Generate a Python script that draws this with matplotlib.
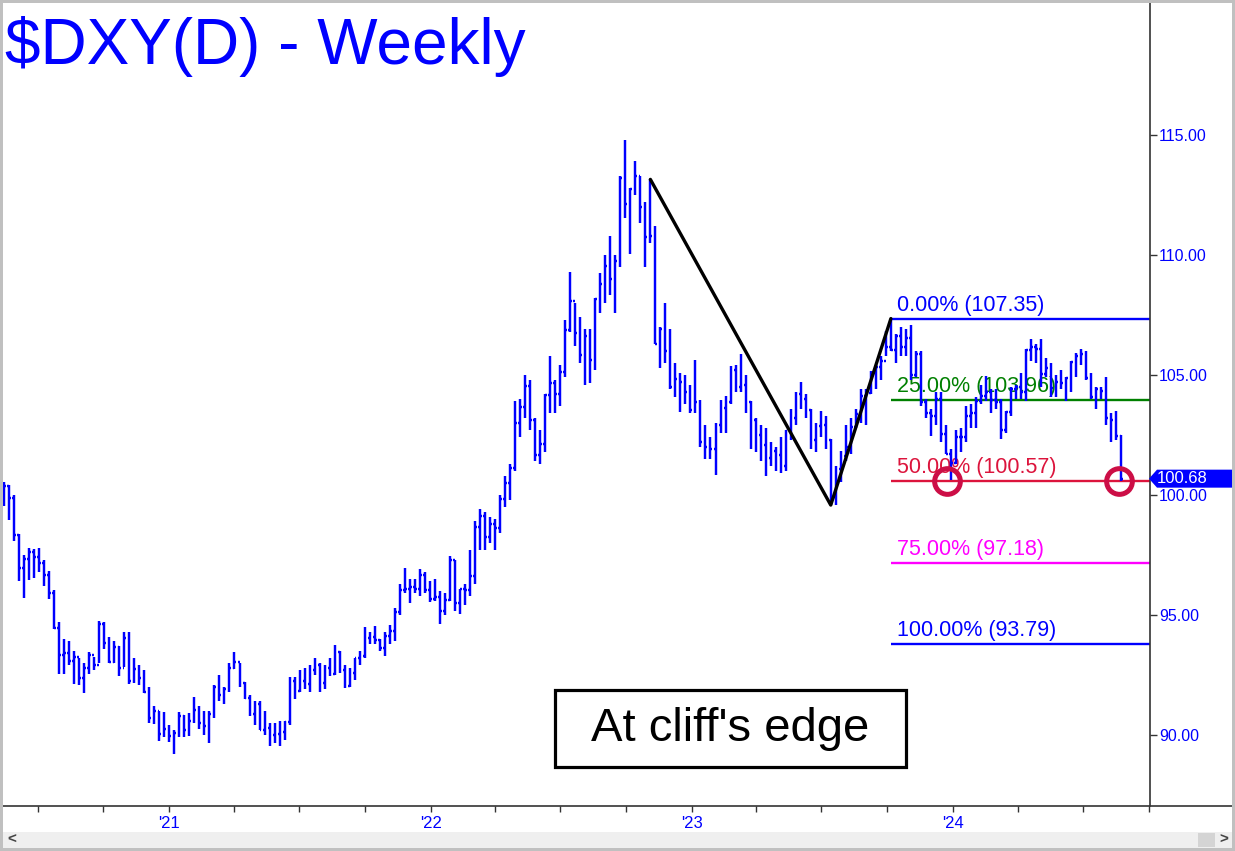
import matplotlib.pyplot as plt
import matplotlib.dates as mdates
import numpy as np
import pandas as pd
from matplotlib.patches import Rectangle, Polygon
from matplotlib.lines import Line2D
from matplotlib.transforms import IdentityTransform

plt.rcParams['font.family'] = ['Liberation Sans', 'DejaVu Sans']

# weekly bars, dated by the Friday that ends each week
week_end = pd.date_range('2020-05-15', periods=224, freq='7D')

highs = [
    # 2020
    100.56, 100.40, 100.00, 98.38, 97.50, 97.80, 97.76, 97.80, 97.30, 96.85, 96.03, 94.70,
    94.00, 93.90, 93.50, 93.20, 93.00, 93.46, 93.25, 94.74, 94.70, 94.10, 93.90, 93.70,
    94.30, 94.30, 93.20, 92.92, 92.70, 92.00, 91.20, 91.00, 90.95, 90.40,
    # 2021
    90.20, 90.95, 90.85, 90.90, 91.60, 91.20, 91.00, 91.00, 92.10, 92.50, 92.00, 93.00,
    93.44, 93.00, 92.20, 91.66, 91.40, 91.43, 91.00, 90.50, 90.50, 90.60, 90.60, 92.40,
    92.40, 92.70, 92.80, 92.90, 93.20, 93.00, 92.90, 93.20, 93.73, 93.50, 92.90, 92.80,
    93.20, 93.50, 94.50, 94.30, 94.56, 94.00, 94.30, 94.60, 95.27, 96.27, 96.94, 96.50,
    96.50, 96.91, 96.80, 96.40,
    # 2022
    96.50, 96.00, 95.90, 97.44, 97.30, 96.10, 96.30, 97.70, 98.90, 99.42, 99.30, 99.10,
    99.00, 100.00, 100.80, 101.30, 103.93, 104.00, 105.00, 104.80, 103.20, 102.70, 104.20, 105.78,
    104.80, 105.40, 107.30, 109.29, 108.00, 107.40, 106.90, 106.90, 108.20, 109.27, 109.99, 110.79,
    110.00, 113.30, 114.78, 112.80, 113.92, 113.30, 112.20, 113.15, 111.20, 107.00, 107.99, 106.90,
    105.50, 105.10, 105.00, 104.60,
    # 2023
    105.63, 103.95, 102.90, 102.40, 103.00, 103.96, 104.12, 105.36, 105.40, 105.88, 105.00, 103.90,
    103.20, 102.90, 102.80, 102.20, 102.00, 102.40, 102.70, 103.60, 104.30, 104.70, 104.20, 103.60,
    103.00, 103.50, 103.30, 102.35, 101.20, 101.85, 102.90, 103.20, 103.60, 104.40, 104.40, 105.16,
    105.40, 105.80, 106.84, 107.35, 106.70, 107.00, 106.90, 107.10, 106.00, 106.00, 104.00, 103.60,
    104.30, 104.30, 102.90, 101.90,
    # 2024
    102.70, 102.80, 103.70, 103.80, 104.10, 104.60, 104.97, 104.40, 104.40, 104.00, 103.50, 104.50,
    104.60, 105.10, 106.10, 106.50, 106.30, 106.50, 105.70, 105.50, 105.00, 105.20, 104.90, 105.60,
    105.90, 106.10, 106.00, 105.10, 104.50, 104.50, 104.90, 103.40, 103.50, 102.50,
]

lows = [
    # 2020
    99.55, 98.97, 98.08, 96.43, 95.71, 96.44, 96.56, 96.80, 96.22, 95.67, 94.43, 92.55,
    92.53, 92.90, 92.13, 92.08, 91.75, 92.52, 92.70, 93.00, 93.58, 92.98, 92.98, 92.47,
    92.82, 92.13, 92.15, 92.10, 91.74, 90.50, 90.47, 89.74, 89.90, 89.72,
    # 2021
    89.21, 89.90, 89.90, 89.95, 90.50, 90.26, 90.00, 89.68, 90.70, 91.40, 91.30, 91.80,
    92.75, 92.00, 91.50, 90.80, 90.42, 90.20, 89.98, 89.53, 89.66, 89.53, 89.80, 90.40,
    91.50, 91.80, 91.90, 91.80, 92.50, 91.80, 91.90, 92.45, 92.50, 92.60, 91.95, 92.00,
    92.30, 92.90, 93.20, 93.80, 93.80, 93.50, 93.30, 93.80, 93.90, 95.00, 95.90, 95.50,
    95.90, 95.80, 95.90, 95.55,
    # 2022
    95.60, 94.63, 95.00, 95.60, 95.17, 95.05, 95.40, 95.80, 96.30, 97.70, 97.70, 98.00,
    97.70, 98.40, 99.50, 99.80, 101.00, 102.40, 103.20, 102.70, 101.43, 101.30, 101.80, 103.40,
    103.40, 103.70, 104.90, 106.80, 106.20, 105.50, 104.60, 104.65, 105.20, 107.60, 108.00, 108.35,
    107.60, 109.50, 111.56, 110.06, 112.50, 111.35, 109.50, 110.50, 106.28, 105.30, 105.50, 104.40,
    104.10, 103.45, 103.80, 103.40,
    # 2023
    103.40, 101.99, 101.50, 101.50, 100.82, 102.60, 102.60, 103.80, 104.30, 104.30, 103.40, 101.92,
    101.80, 101.40, 100.80, 101.20, 101.00, 100.90, 101.00, 102.30, 102.90, 103.60, 103.20, 101.90,
    101.80, 102.40, 101.90, 99.58, 99.57, 100.55, 101.40, 101.70, 102.80, 103.00, 102.90, 104.20,
    104.40, 104.80, 105.80, 106.00, 105.50, 105.80, 105.80, 104.80, 104.90, 103.70, 103.20, 102.46,
    102.90, 102.20, 101.70, 100.62,
    # 2024
    101.30, 101.80, 102.20, 102.80, 102.80, 103.80, 103.90, 103.40, 103.60, 102.34, 102.60, 103.30,
    104.00, 104.00, 103.90, 105.60, 105.50, 104.50, 104.90, 104.10, 104.10, 104.40, 103.90, 104.30,
    104.90, 105.40, 104.80, 104.00, 103.60, 104.00, 102.90, 102.20, 102.30, 100.60,
]

closes = [
    # 2020
    100.37, 99.86, 98.34, 96.94, 97.33, 97.62, 97.43, 97.18, 96.65, 95.91, 94.44, 93.35,
    93.43, 93.09, 93.24, 92.37, 92.80, 93.33, 92.93, 94.64, 93.85, 93.05, 93.68, 92.77,
    94.04, 92.23, 92.75, 92.39, 91.79, 90.70, 90.98, 90.02, 90.24, 89.94,
    # 2021
    90.10, 90.77, 90.22, 90.58, 91.04, 90.48, 90.36, 90.88, 91.99, 91.67, 91.92, 92.77,
    93.02, 92.17, 91.56, 90.86, 91.28, 90.22, 90.31, 90.00, 90.03, 90.13, 90.55, 92.23,
    91.85, 92.23, 92.12, 92.69, 92.91, 92.17, 92.80, 92.52, 93.47, 92.69, 92.03, 92.58,
    93.19, 93.29, 94.04, 94.08, 93.96, 93.62, 94.12, 94.32, 95.12, 96.03, 96.08, 96.16,
    96.08, 96.66, 96.04, 95.67,
    # 2022
    95.73, 95.16, 95.64, 97.27, 95.48, 96.07, 96.05, 96.61, 98.66, 99.13, 98.23, 98.80,
    98.62, 99.85, 100.50, 101.12, 103.00, 103.66, 104.56, 103.14, 101.67, 102.14, 104.15, 104.67,
    104.19, 105.14, 106.89, 108.07, 106.73, 105.85, 106.61, 105.63, 108.17, 108.81, 109.54, 109.00,
    109.76, 113.19, 112.12, 112.76, 113.31, 111.99, 110.76, 110.81, 106.29, 106.93, 106.00, 104.51,
    104.82, 104.70, 104.31, 103.52,
    # 2023
    103.89, 102.20, 102.01, 101.93, 102.92, 103.63, 103.86, 105.21, 104.52, 104.58, 103.86, 103.12,
    102.51, 102.08, 101.55, 101.83, 101.66, 101.22, 102.68, 103.20, 104.22, 104.01, 103.55, 102.27,
    102.89, 102.91, 102.27, 99.91, 101.07, 101.62, 102.01, 102.84, 103.39, 104.13, 104.25, 105.07,
    105.32, 105.58, 106.17, 106.04, 106.62, 106.16, 106.56, 105.02, 105.87, 103.87, 103.40, 103.27,
    104.01, 102.56, 101.70, 101.33,
    # 2024
    102.42, 102.40, 103.29, 103.43, 103.92, 104.11, 104.29, 103.94, 103.86, 102.71, 103.44, 104.43,
    104.51, 104.30, 106.04, 106.15, 106.09, 105.03, 105.30, 104.45, 104.72, 104.67, 104.89, 105.55,
    105.80, 105.87, 104.88, 104.09, 104.40, 104.32, 103.21, 103.14, 102.45, 100.68,
]

# ABC swing and the fib projection off it
swing_dates = pd.to_datetime(['2022-11-04', '2023-07-14', '2023-10-06'])
swing_prices = [113.15, 99.58, 107.35]
fib_names = ['0.00%', '25.00%', '50.00%', '75.00%', '100.00%']
fib_levels = [107.35, 103.96, 100.57, 97.18, 93.79]
fib_colors = ['#0000ff', '#008000', '#dc143c', '#ff00ff', '#0000ff']
circle_dates = pd.to_datetime(['2023-12-24', '2024-08-20'])

year_ticks = pd.to_datetime(['2021-01-01', '2022-01-01', '2023-01-01', '2024-01-01'])
year_labels = ["'21", "'22", "'23", "'24"]
price_ticks = [90, 95, 100, 105, 110, 115]

W, H = 1235, 851
fig = plt.figure(figsize=(W / 100, H / 100), dpi=100, facecolor='white')
ax = fig.add_axes([3 / W, (H - 806) / H, 1147 / W, 803 / H])

blue = '#0000ff'
x = mdates.date2num(week_end)
opens = np.r_[closes[0], closes[:-1]]
tk = 2.4  # tick length in days
ax.vlines(x, lows, highs, color=blue, lw=1.75, zorder=3)
ax.hlines(closes, x, x + tk, color=blue, lw=1.75, zorder=3)
ax.hlines(opens, x - tk, x, color=blue, lw=1.75, zorder=3)

x0 = x[0]
ax.set_xlim(x0 - 1.4, x0 + 1601)
ax.set_ylim(87.04, 120.5)

# fib levels
xr = ax.get_xlim()[1]
for name, lev, c in zip(fib_names, fib_levels, fib_colors):
    ax.hlines(lev, mdates.date2num(swing_dates[2]), xr, color=c, lw=1.7, zorder=2)
    ax.annotate(f'{name} ({lev:.2f})', xy=(swing_dates[2], lev), xytext=(6, 8),
                textcoords='offset pixels', color=c, fontsize=15.5, va='baseline', zorder=2.5)

ax.plot(swing_dates, swing_prices, color='black', lw=2.4, solid_capstyle='round', zorder=4)
ax.plot(circle_dates, [fib_levels[2]] * len(circle_dates), 'o', ms=18.5, mfc='none',
        mec='#cc0e46', mew=3.6, zorder=5)

# axes styling
for s in ['top', 'left', 'bottom']:
    ax.spines[s].set_visible(False)
ax.spines['right'].set_color('#333333')
ax.spines['right'].set_linewidth(1.2)
ax.yaxis.tick_right()
ax.set_yticks(price_ticks)
ax.set_yticklabels([f'{p:.2f}' for p in price_ticks])
ax.tick_params(axis='y', length=5, width=1, color='#333333', labelcolor=blue,
               labelsize=11.5, pad=1.5)
ax.set_xticks(mdates.date2num(year_ticks))
ax.set_xticklabels(year_labels)
ax.xaxis.set_minor_locator(mdates.MonthLocator(bymonth=[1, 4, 7, 10]))
ax.tick_params(axis='x', which='both', length=4, width=1, color='#333333',
               labelcolor=blue, labelsize=12, pad=3.5)

fig.add_artist(Line2D([3 / W, 1232 / W], [(H - 806) / H] * 2, color='#333333', lw=1.2))

# title
fig.text(5 / W, 1 - 64 / H, '$DXY(D) - Weekly', fontsize=46, color=blue,
         va='baseline', ha='left', parse_math=False)

# note box
fig.add_artist(Rectangle((555 / W, 1 - 767 / H), 351 / W, 77 / H, fc='white',
                         ec='black', lw=2.3, zorder=6))
fig.text(730.5 / W, 1 - 729 / H, "At cliff's edge", fontsize=34, color='black',
         ha='center', va='center', zorder=7)

# last price tag on the scale
fig.canvas.draw()
yp = ax.transData.transform((x[-1], closes[-1]))[1]
tag = Polygon([(1149, yp), (1157, yp + 9), (1232, yp + 9), (1232, yp - 9), (1157, yp - 9)],
              closed=True, fc=blue, ec='none', transform=IdentityTransform(), zorder=8)
fig.add_artist(tag)
fig.text(1157 / W, yp / H, f'{closes[-1]:.2f}', fontsize=12, color='white',
         ha='left', va='center', zorder=9)

# window frame and scroll bar
grey = '#c0c0c0'
fig.add_artist(Rectangle((3 / W, 3 / H), 1229 / W, 16 / H, fc='#efefef', ec='none', zorder=1))
fig.add_artist(Rectangle((1198 / W, 4 / H), 17 / W, 14 / H, fc='#d4d4d4', ec='none', zorder=2))
fig.text(12 / W, 11 / H, '<', fontsize=11, fontweight='bold', color='#444444',
         ha='center', va='center')
fig.text(1224 / W, 11 / H, '>', fontsize=11, fontweight='bold', color='#444444',
         ha='center', va='center')
for r in [(0, 0, 3 / W, 1), (0, 1 - 3 / H, 1, 3 / H), (1232 / W, 0, 3 / W, 1), (0, 0, 1, 3 / H)]:
    fig.add_artist(Rectangle((r[0], r[1]), r[2], r[3], fc=grey, ec='none', zorder=10))

fig.savefig('out.png', dpi=100)
